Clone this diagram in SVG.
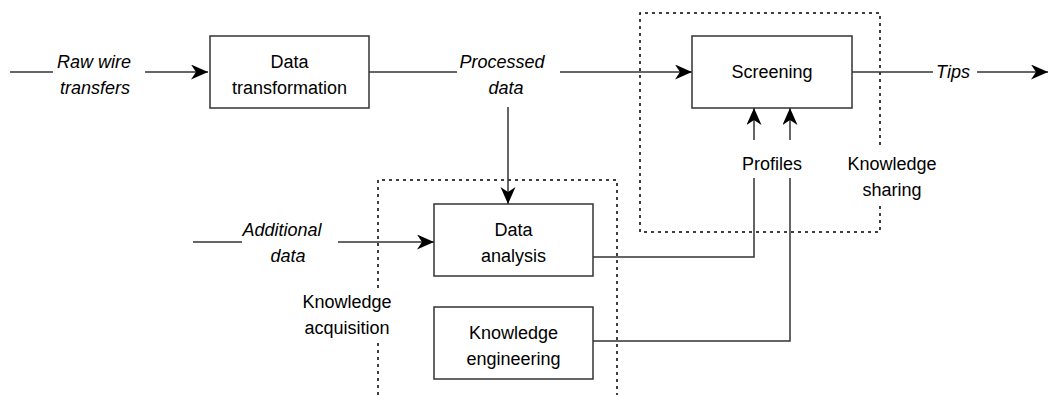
<svg xmlns="http://www.w3.org/2000/svg" width="1049" height="395" viewBox="0 0 1049 395">
<style>
.box{fill:#fff;stroke:#333;stroke-width:1.5}
.t{font-family:"Liberation Sans",Arial,sans-serif;font-size:18px;fill:#000;text-anchor:middle}
.i{font-style:italic}
.c{fill:none;stroke:#333;stroke-width:1.5}
.d{fill:none;stroke:#000;stroke-width:1.5;stroke-dasharray:3 4}
</style>
<defs>
<marker id="ah" markerUnits="userSpaceOnUse" markerWidth="18" markerHeight="16" refX="17" refY="7.5" orient="auto" viewBox="0 0 18 16">
<path d="M0,0 L17,7.5 L0,15 L5,7.5 Z" fill="#000"/>
</marker>
</defs>
<g id="groups">
<path class="d" d="M880,145 V13 H640 V232 H880 V203"/>
<path class="d" d="M378,395 V342 M378,288 V180 H617 V395"/>
</g>
<g id="connectors">
<path class="c" d="M10,72 H53"/>
<path class="c" d="M145,72 H208" marker-end="url(#ah)"/>
<path class="c" d="M369,72 H457"/>
<path class="c" d="M560,72 H692" marker-end="url(#ah)"/>
<path class="c" d="M508,107 V204" marker-end="url(#ah)"/>
<path class="c" d="M852,72 H933"/>
<path class="c" d="M977,72 H1048" marker-end="url(#ah)"/>
<path class="c" d="M193,242 H242"/>
<path class="c" d="M338,242 H434" marker-end="url(#ah)"/>
<path class="c" d="M593,257 H754 V178"/>
<path class="c" d="M754,140 V108" marker-end="url(#ah)"/>
<path class="c" d="M593,341 H790 V178"/>
<path class="c" d="M790,140 V108" marker-end="url(#ah)"/>
</g>
<g id="labels">
<text class="t i" x="94" y="68">Raw wire</text>
<text class="t i" x="95" y="94">transfers</text>
<text class="t i" x="502" y="68">Processed</text>
<text class="t i" x="506" y="94">data</text>
<text class="t i" x="953" y="78">Tips</text>
<text class="t i" x="282" y="236">Additional</text>
<text class="t i" x="288" y="262">data</text>
<text class="t" x="772" y="170">Profiles</text>
<text class="t" x="892" y="170">Knowledge</text>
<text class="t" x="892" y="196">sharing</text>
<text class="t" x="347" y="308">Knowledge</text>
<text class="t" x="347" y="334">acquisition</text>
</g>
<g id="data-transformation">
<rect class="box" x="210" y="36" width="159" height="72"/>
<text class="t" x="289.5" y="68">Data</text>
<text class="t" x="289.5" y="94">transformation</text>
</g>
<g id="screening">
<rect class="box" x="692" y="36" width="160" height="72"/>
<text class="t" x="772" y="78">Screening</text>
</g>
<g id="data-analysis">
<rect class="box" x="434" y="204" width="159" height="72"/>
<text class="t" x="513.5" y="236">Data</text>
<text class="t" x="513.5" y="262">analysis</text>
</g>
<g id="knowledge-engineering">
<rect class="box" x="434" y="307" width="159" height="72"/>
<text class="t" x="513.5" y="339">Knowledge</text>
<text class="t" x="513.5" y="365">engineering</text>
</g>
</svg>
